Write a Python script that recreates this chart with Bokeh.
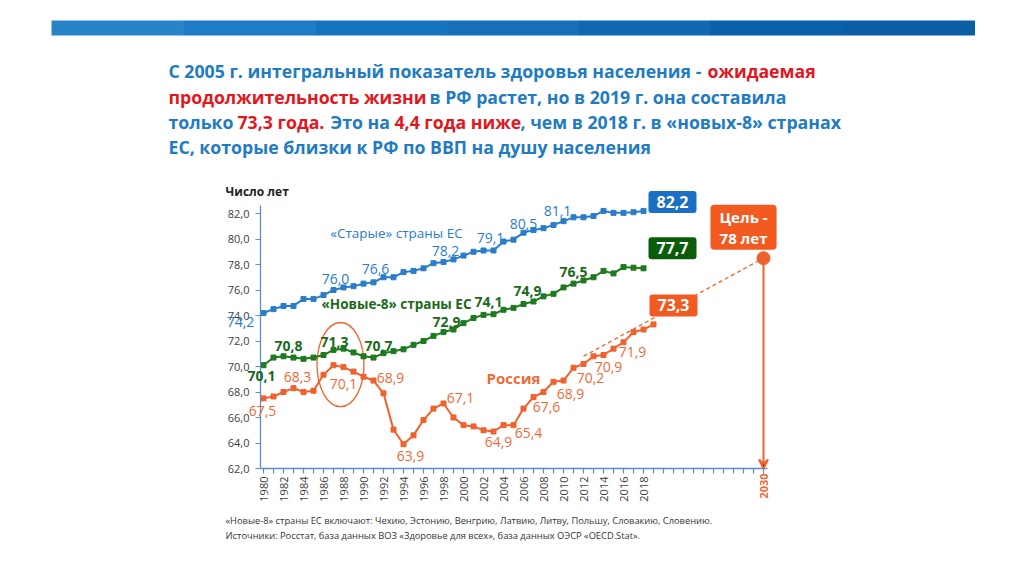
from math import pi
from bokeh.plotting import figure
from bokeh.models import Range1d, Label, FixedTicker, BoxAnnotation, Arrow, VeeHead
from bokeh.embed import file_html
from bokeh.resources import INLINE

# ---------------- data ----------------
years_eu = list(range(1980, 2019))
old_eu = [74.2, 74.5, 74.75, 74.75, 75.3, 75.3, 75.6, 76.0, 76.2, 76.3,
          76.5, 76.6, 77.0, 77.0, 77.4, 77.5, 77.7, 78.1, 78.2, 78.4,
          78.7, 79.0, 79.1, 79.1, 79.8, 79.95, 80.5, 80.7, 80.85, 81.1,
          81.4, 81.7, 81.7, 81.8, 82.2, 82.05, 82.05, 82.1, 82.2]
new8_eu = [70.1, 70.7, 70.8, 70.7, 70.6, 70.7, 70.9, 71.3, 71.4, 71.1,
           70.8, 70.7, 71.05, 71.2, 71.35, 71.7, 72.0, 72.4, 72.7, 72.9,
           73.4, 73.8, 74.05, 74.1, 74.45, 74.6, 74.9, 75.1, 75.5, 75.7,
           76.2, 76.5, 76.75, 77.0, 77.5, 77.3, 77.8, 77.75, 77.7]
years_ru = list(range(1980, 2020))
russia = [67.5, 67.65, 68.0, 68.3, 68.0, 68.1, 69.35, 70.1, 69.95, 69.6,
          69.2, 68.9, 67.9, 65.05, 63.9, 64.6, 65.8, 66.7, 67.1, 66.0,
          65.4, 65.3, 65.0, 64.9, 65.4, 65.4, 66.7, 67.6, 68.0, 68.8,
          68.9, 69.9, 70.2, 70.8, 70.9, 71.4, 71.9, 72.7, 72.9, 73.3]
trend_years = [2012, 2030]
trend_values = [70.8, 78.5]
target_year = 2030
target_value = 78.5
target_text = "Цель -\n78 лет"

old_label_years = [1980, 1987, 1991, 1998, 2003, 2006, 2009]
new_label_years = [1980, 1982, 1987, 1991, 1999, 2003, 2006, 2011]
ru_label_years = [1980, 1983, 1987, 1991, 1994, 1998, 2003, 2005, 2007, 2010, 2012, 2014, 2016]

y_ticks = list(range(62, 84, 2))
x_ticks = list(range(1980, 2031))
x_labelled = list(range(1980, 2019, 2))

title_lines = [
    [("С 2005 г. интегральный показатель здоровья населения -", "b"), ("ожидаемая", "r")],
    [("продолжительность жизни", "r"), ("в РФ растет, но в 2019 г. она составила", "b")],
    [("только", "b"), ("73,3 года.", "r"), ("Это на", "b"), ("4,4 года ниже", "r"),
     (", чем в 2018 г. в «новых-8» странах", "b")],
    [("ЕС, которые близки к РФ по ВВП на душу населения", "b")],
]
footnotes = [
    "«Новые-8» страны ЕС включают: Чехию, Эстонию, Венгрию, Латвию, Литву, Польшу, Словакию, Словению.",
    "Источники: Росстат, база данных ВОЗ «Здоровье для всех», база данных ОЭСР «OECD.Stat».",
]

# ---------------- styles ----------------
BLUE = "#2A7DC8"
BLUE_BOX = "#1B6FC4"
GREEN = "#1E7A1E"
GREEN_TXT = "#1B6A1B"
GREEN_BOX = "#0B5D0B"
ORANGE = "#F0622D"
ORANGE_TXT = "#EE6A38"
ORANGE_BOX = "#F25A22"
T_BLUE = "#1F7BC2"
T_RED = "#E3161E"
AXIS = "#5B8DC9"
FONT = "Open Sans"

PXX = 10.0      # px per year
PXY = 12.75     # px per year of life expectancy
W, H = 1016, 568


def X(px):
    return 1980 + (px - 263) / PXX


def Y(py):
    return 62 + (468 - py) / PXY


p = figure(width=W, height=H, output_backend="svg", toolbar_location=None,
           x_range=Range1d(X(0), X(W)), y_range=Range1d(Y(H), Y(0)), min_border=0)
p.outline_line_color = None
p.grid.visible = False
p.background_fill_color = "white"
p.border_fill_color = "white"

for ax in (p.xaxis[0], p.yaxis[0]):
    ax.axis_line_color = AXIS
    ax.axis_line_width = 1.3
    ax.major_tick_line_color = AXIS
    ax.major_tick_line_width = 1.2
    ax.major_tick_out = 5
    ax.major_tick_in = 0
    ax.minor_tick_line_color = None
    ax.major_label_text_font = FONT
    ax.major_label_text_font_size = "11px"
    ax.major_label_text_color = "#404040"

p.xaxis.fixed_location = 62
p.xaxis.bounds = (X(260), X(767))
p.yaxis.fixed_location = X(260)
p.yaxis.bounds = (62, 82.6)

p.yaxis.ticker = FixedTicker(ticks=y_ticks)
p.yaxis.major_label_overrides = {t: f"{t:.1f}".replace(".", ",") for t in y_ticks}
p.yaxis.major_label_standoff = 6
p.xaxis.ticker = FixedTicker(ticks=x_ticks)
p.xaxis.major_label_overrides = {t: (str(t) if t in x_labelled else "") for t in x_ticks}
p.xaxis.major_label_orientation = pi / 2
p.xaxis.major_label_standoff = 3


def lab(x, y, text, color, size, bold=False, align="center", baseline="middle", angle=0, **kw):
    p.add_layout(Label(x=x, y=y, text=text, text_color=color, text_font=FONT,
                       text_font_size=size, text_font_style="bold" if bold else "normal",
                       text_align=align, text_baseline=baseline, angle=angle, **kw))


# banner
banner_cols = ["#2784C9", "#1C7CC5", "#1675BF", "#176FB8", "#1068B2", "#0B62AA", "#0A5EA5"]
bw = (974 - 51) / len(banner_cols)
for i, c in enumerate(banner_cols):
    p.add_layout(BoxAnnotation(left=X(51 + i * bw), right=X(51 + (i + 1) * bw + 0.5),
                               top=Y(20), bottom=Y(35), fill_color=c, fill_alpha=1,
                               line_color=None))

# title (segment start positions in page px)
line_y = [70, 96, 121, 146]
line_x = [
    [168, 707],
    [168, 429],
    [168, 237, 330, 394, 520],
    [168],
]
for li, segs in enumerate(title_lines):
    for si, (txt, col) in enumerate(segs):
        lab(X(line_x[li][si]), Y(line_y[li]), txt, T_BLUE if col == "b" else T_RED,
            "17.7px", bold=True, align="left")

# footnotes
for i, t in enumerate(footnotes):
    lab(X(225), Y(520 + 15 * i), t, "#333333", "9.3px", align="left")

# y axis title
lab(X(225), Y(191), "Число лет", "#222222", "12px", bold=True, align="left")

# trend + target
p.line(trend_years, trend_values, line_color=ORANGE, line_width=1.3, line_dash="4 3")
p.add_layout(Arrow(end=VeeHead(size=9, line_color=ORANGE, line_width=2),
                   x_start=target_year, y_start=target_value, x_end=target_year, y_end=62,
                   line_color=ORANGE, line_width=2))
p.scatter([target_year], [target_value], size=13, color=ORANGE)

# ellipse highlight
p.ellipse(x=[1987.7], y=[70.15], width=4.7, height=6.6, fill_color=None,
          line_color=ORANGE, line_width=1.3)

# series
for xs, ys, c in ((years_eu, old_eu, BLUE), (years_eu, new8_eu, GREEN), (years_ru, russia, ORANGE)):
    p.line(xs, ys, line_color=c, line_width=2)
    p.scatter(xs, ys, marker="square", size=5, color=c)


def fmt(v):
    return f"{v:.1f}".replace(".", ",")


old_off = {1980: (-23, -9), 1987: (2, 11), 1991: (2, 13), 1998: (2, 11), 2003: (-3, 12),
           2006: (0, 9), 2009: (4, 14)}
new_off = {1980: (-2, -11), 1982: (5, 10), 1987: (1, 8), 1991: (5, 12), 1999: (-7, 8),
           2003: (-5, 12), 2006: (4, 13), 2011: (0, 12)}
ru_off = {1980: (-1, -13), 1983: (4, 11), 1987: (10, -19), 1991: (17, 3), 1994: (7, -12),
          1998: (17, 5), 2003: (5, -10), 2005: (15, -8), 2007: (13, -10), 2010: (7, -13),
          2012: (7, -14), 2014: (5, -12), 2016: (9, -10)}

for yr in old_label_years:
    v = old_eu[years_eu.index(yr)]
    dx, dy = old_off[yr]
    lab(yr + dx / PXX, v + dy / PXY, fmt(v), BLUE, "14px")
for yr in new_label_years:
    v = new8_eu[years_eu.index(yr)]
    dx, dy = new_off[yr]
    lab(yr + dx / PXX, v + dy / PXY, fmt(v), GREEN_TXT, "14px", bold=True)
for yr in ru_label_years:
    v = russia[years_ru.index(yr)]
    dx, dy = ru_off[yr]
    lab(yr + dx / PXX, v + dy / PXY, fmt(v), ORANGE_TXT, "14px")

# end-value boxes
box_kw = dict(padding=(8, 5), border_radius=3)
lab(years_eu[-1] + 29 / PXX, old_eu[-1] + 9 / PXY, fmt(old_eu[-1]), "white", "16px", bold=True,
    background_fill_color=BLUE_BOX, **box_kw)
lab(years_eu[-1] + 29 / PXX, new8_eu[-1] + 20 / PXY, fmt(new8_eu[-1]), "white", "16px", bold=True,
    background_fill_color=GREEN_BOX, **box_kw)
lab(years_ru[-1] + 20 / PXX, russia[-1] + 19 / PXY, fmt(russia[-1]), "white", "16px", bold=True,
    background_fill_color=ORANGE_BOX, **box_kw)
lab(target_year - 20 / PXX, target_value + 31 / PXY, target_text, "white", "15px", bold=True,
    background_fill_color=ORANGE_BOX, padding=(9, 2), border_radius=4, text_line_height=1.05)

# series names
lab(X(396), Y(232), "«Старые» страны ЕС", BLUE, "13.5px")
lab(X(396), Y(303), "«Новые-8» страны ЕС", GREEN_TXT, "13.5px", bold=True)
lab(X(513), Y(377), "Россия", ORANGE_TXT, "15px", bold=True)

# 2030 tick label
lab(target_year, Y(473), str(target_year), ORANGE_TXT, "11px", bold=True, align="right", angle=pi / 2)

open("out.html", "w").write(file_html(p, INLINE))
